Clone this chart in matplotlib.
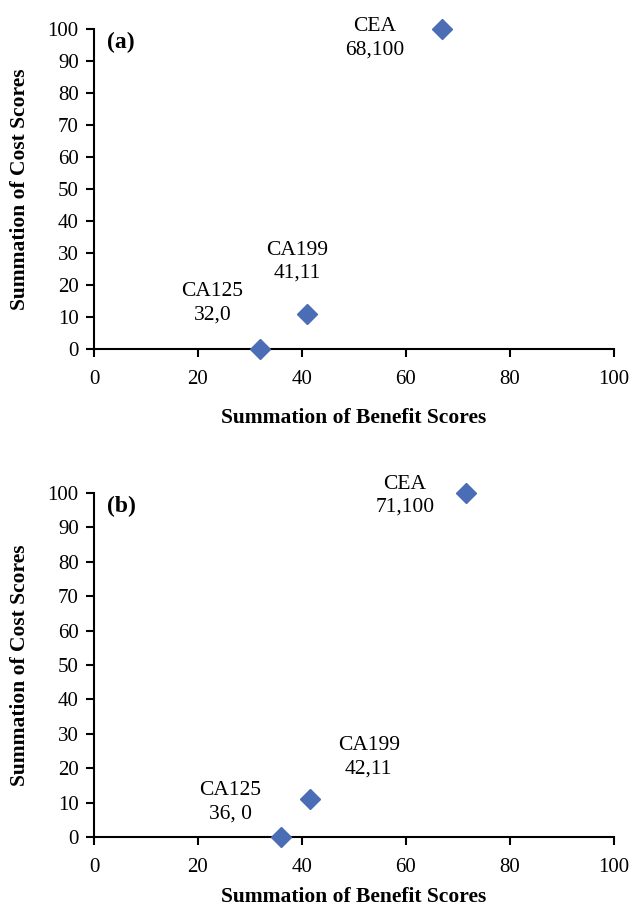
import matplotlib.pyplot as plt

plt.rcParams['font.family'] = ['Liberation Serif', 'DejaVu Serif']

# panel (a)
names_a = ['CEA', 'CA199', 'CA125']
benefit_a = [67, 41, 32]
cost_a = [100, 11, 0]
labels_a = ['CEA\n68,100', 'CA199\n41,11', 'CA125\n32,0']

# panel (b)
names_b = ['CEA', 'CA199', 'CA125']
benefit_b = [71.5, 41.5, 36]
cost_b = [100, 11, 0]
labels_b = ['CEA\n71,100', 'CA199\n42,11', 'CA125\n36, 0']

ticks = [0, 20, 40, 60, 80, 100]
yticks = [0, 10, 20, 30, 40, 50, 60, 70, 80, 90, 100]

# label offsets in pixels (relative to marker)
offs_a = [(-68, -9), (-10, 52), (-48, 46)]
offs_b = [(-61, -3), (59, 42), (-51, 35)]

fig = plt.figure(figsize=(6.32, 9.08), dpi=100)
ax_a = fig.add_axes([0.1487, 0.6156, 0.8228, 0.3524])
ax_b = fig.add_axes([0.1487, 0.0782, 0.8228, 0.3790])

FS = 15.5
panels = [
    (ax_a, benefit_a, cost_a, labels_a, offs_a, '(a)', -0.216),
    (ax_b, benefit_b, cost_b, labels_b, offs_b, '(b)', -0.174),
]

for ax, xs, ys, labs, offs, tag, xl_y in panels:
    ax.plot(xs, ys, linestyle='none', marker='D', markersize=10,
            color='#4a6db5', clip_on=False, zorder=5)
    for x, y, lab, off in zip(xs, ys, labs, offs):
        ax.annotate(lab, (x, y), xytext=off, textcoords='offset pixels',
                    ha='center', va='center', fontsize=FS, linespacing=1.3)
    ax.set_xlim(0, 100)
    ax.set_ylim(0, 100)
    ax.set_xticks(ticks)
    ax.set_yticks(yticks)
    for s in ['top', 'right']:
        ax.spines[s].set_visible(False)
    for s in ['left', 'bottom']:
        ax.spines[s].set_linewidth(1.5)
    ax.tick_params(direction='out', length=6, width=1.5, labelsize=15)
    ax.tick_params(axis='x', pad=9)
    ax.tick_params(axis='y', pad=5)
    ax.set_xlabel('Summation of Benefit Scores', fontsize=FS, fontweight='bold')
    ax.set_ylabel('Summation of Cost Scores', fontsize=FS, fontweight='bold')
    ax.xaxis.label.set_va('center')
    ax.yaxis.label.set_va('center')
    ax.xaxis.set_label_coords(0.5, xl_y)
    ax.yaxis.set_label_coords(-0.142, 0.5)
    ax.text(0.025, 0.99, tag, transform=ax.transAxes, fontsize=17,
            fontweight='bold', va='top', ha='left')

fig.savefig('out.png', dpi=100)
